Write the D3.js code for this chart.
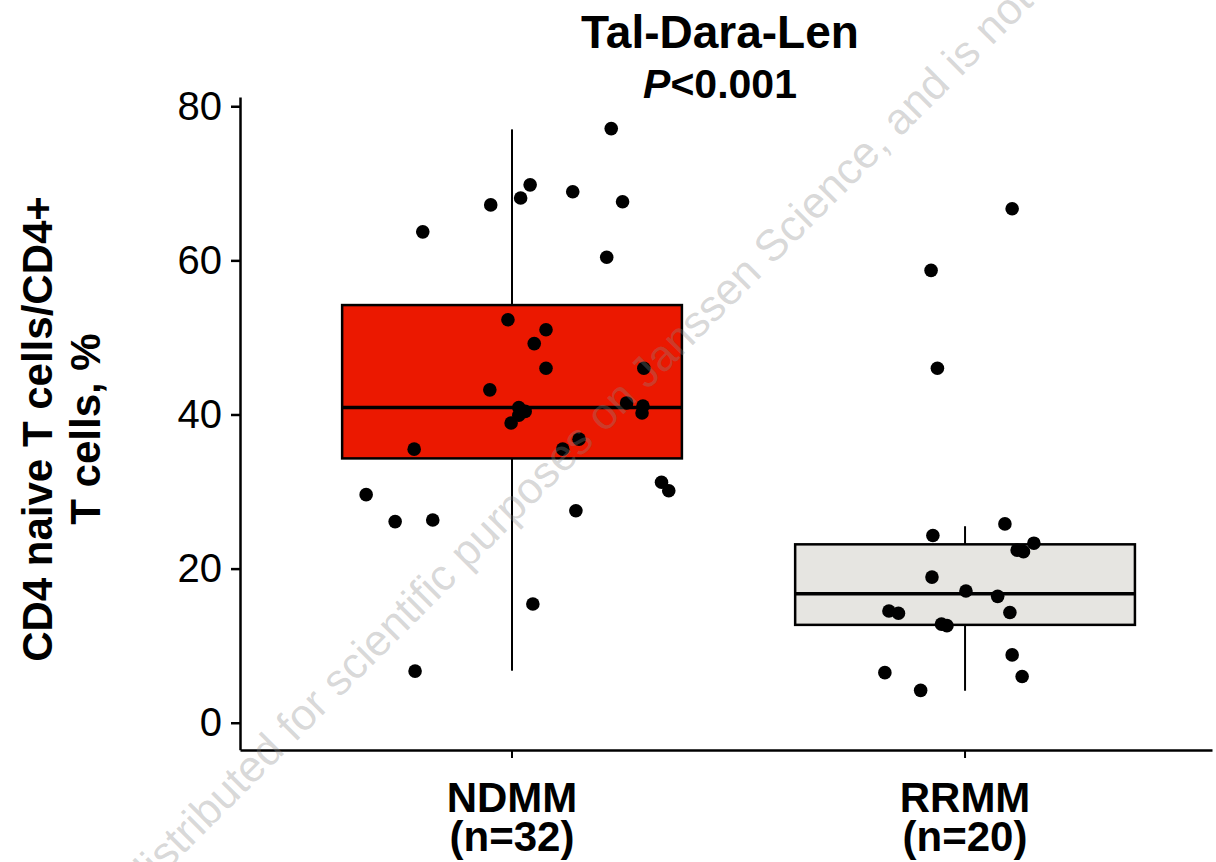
<!DOCTYPE html>
<html>
<head>
<meta charset="utf-8">
<script src="https://cdn.jsdelivr.net/npm/d3@7"></script>
<style>
  body { margin: 0; background: #fff; }
  svg { display: block; font-family: "Liberation Sans", Arial, sans-serif; }
</style>
</head>
<body>
<script>
// categories and labels
var groups = ["NDMM", "RRMM"];
var groupN = ["(n=32)", "(n=20)"];
var boxFill = ["#EB1800", "#E6E5E1"];

// box summaries: low whisker, q1, median, q3, high whisker
var whiskerLow = [6.75, 4.15];
var q1 = [34.3, 12.7];
var median = [40.9, 16.75];
var q3 = [54.2, 23.15];
var whiskerHigh = [77.0, 25.5];

// individual patients, values in %
var ndmmValues = [63.7, 67.2, 68.1, 69.8, 52.3, 51.0, 49.2, 46.0, 43.2, 40.9, 40.4, 39.9, 38.9,
  77.1, 68.9, 67.6, 60.4, 46.0, 41.5, 41.1, 40.2, 36.8, 35.5, 31.2, 30.1, 27.5,
  35.5, 29.6, 26.1, 26.3, 15.4, 6.7];
// horizontal jitter, as fraction of the category step
var ndmmJitter = [-0.197, -0.047, 0.019, 0.040, -0.009, 0.075, 0.049, 0.075, -0.049, 0.015, 0.029, 0.015, -0.002,
  0.219, 0.134, 0.244, 0.209, 0.291, 0.253, 0.289, 0.287, 0.148, 0.112, 0.330, 0.346, 0.141,
  -0.216, -0.322, -0.258, -0.175, 0.046, -0.214];

var rrmmValues = [25.8, 24.3, 23.3, 22.4, 22.2, 18.9, 17.1, 16.4, 14.5, 14.2, 14.3, 12.8, 12.6,
  8.8, 6.5, 6.0, 4.2, 66.7, 58.7, 46.0];
var rrmmJitter = [0.088, -0.071, 0.152, 0.115, 0.129, -0.073, 0.002, 0.072, -0.168, -0.147, 0.099, -0.052, -0.040,
  0.104, -0.177, 0.126, -0.098, 0.104, -0.075, -0.061];

var yTicks = [0, 20, 40, 60, 80];

var width = 1216, height = 862;

var svg = d3.select("body").append("svg")
  .attr("width", width)
  .attr("height", height);

// scales
var x = d3.scaleBand().domain(groups)
  .range([240, 1212])
  .paddingInner(0).paddingOuter(0.0728).align(0.69);

var y = d3.scaleLinear().domain([-3.5, 81.2]).range([749.7, 97]);

var jit = d3.scaleLinear().domain([-1, 1]).range([-x.bandwidth(), x.bandwidth()]);

// y axis
var yAxis = svg.append("g")
  .attr("transform", "translate(240,0)")
  .call(d3.axisLeft(y).tickValues(yTicks).tickSize(9).tickPadding(9).tickSizeOuter(0));
yAxis.select(".domain").attr("stroke-width", 2.5);
yAxis.selectAll(".tick line").attr("stroke-width", 2.5);
yAxis.selectAll(".tick text").attr("font-size", 40).attr("fill", "#000")
  .attr("font-family", "Liberation Sans, Arial, sans-serif");

// x axis
var xAxis = svg.append("g")
  .attr("transform", "translate(0,750)")
  .call(d3.axisBottom(x).tickSize(8).tickSizeOuter(0).tickFormat(""));
xAxis.select(".domain").attr("stroke-width", 2.5);
xAxis.selectAll(".tick line").attr("stroke-width", 2);

// x labels, two lines each
groups.forEach(function(g, i) {
  var cx = x(g) + x.bandwidth() / 2;
  svg.append("text")
    .attr("x", cx).attr("y", 812)
    .attr("text-anchor", "middle")
    .attr("font-size", 42)
    .attr("font-weight", "bold")
    .text(g);
  svg.append("text")
    .attr("x", cx).attr("y", 851)
    .attr("text-anchor", "middle")
    .attr("font-size", 42)
    .attr("font-weight", "bold")
    .text(groupN[i]);
});

// boxes
var boxW = x.bandwidth() * 0.75;
var boxes = svg.append("g");
groups.forEach(function(g, i) {
  var cx = x(g) + x.bandwidth() / 2;
  // whiskers
  boxes.append("line")
    .attr("x1", cx).attr("x2", cx)
    .attr("y1", y(whiskerHigh[i])).attr("y2", y(q3[i]))
    .attr("stroke", "#000").attr("stroke-width", 2);
  boxes.append("line")
    .attr("x1", cx).attr("x2", cx)
    .attr("y1", y(q1[i])).attr("y2", y(whiskerLow[i]))
    .attr("stroke", "#000").attr("stroke-width", 2);
  boxes.append("rect")
    .attr("x", cx - boxW / 2)
    .attr("y", y(q3[i]))
    .attr("width", boxW)
    .attr("height", y(q1[i]) - y(q3[i]))
    .attr("fill", boxFill[i])
    .attr("stroke", "#000")
    .attr("stroke-width", 2.5);
  boxes.append("line")
    .attr("x1", cx - boxW / 2).attr("x2", cx + boxW / 2)
    .attr("y1", y(median[i])).attr("y2", y(median[i]))
    .attr("stroke", "#000").attr("stroke-width", 3.5);
});

// points
var pts = [];
ndmmValues.forEach(function(v, i) { pts.push({g: "NDMM", v: v, j: ndmmJitter[i]}); });
rrmmValues.forEach(function(v, i) { pts.push({g: "RRMM", v: v, j: rrmmJitter[i]}); });

svg.append("g")
  .selectAll("circle").data(pts).enter().append("circle")
  .attr("cx", function(d) { return x(d.g) + x.bandwidth() / 2 + jit(d.j); })
  .attr("cy", function(d) { return y(d.v); })
  .attr("r", 6.8)
  .attr("fill", "#000");

// title
svg.append("text")
  .attr("x", 720).attr("y", 48)
  .attr("text-anchor", "middle")
  .attr("font-size", 46)
  .attr("font-weight", "bold")
  .text("Tal-Dara-Len");
var p = svg.append("text")
  .attr("x", 720).attr("y", 98)
  .attr("text-anchor", "middle")
  .attr("font-size", 41)
  .attr("font-weight", "bold");
p.append("tspan").attr("font-style", "italic").text("P");
p.append("tspan").text("<0.001");

// y label
var yl = svg.append("text")
  .attr("transform", "translate(0,429) rotate(-90)")
  .attr("text-anchor", "middle")
  .attr("font-size", 42)
  .attr("font-weight", "bold");
yl.append("tspan").attr("x", 0).attr("y", 52).text("CD4 naive T cells/CD4+");
yl.append("tspan").attr("x", 0).attr("y", 100).text("T cells, %");

// watermark
var wmSize = 44;
var wm = svg.append("text")
  .attr("font-size", wmSize)
  .attr("fill", "#888")
  .attr("fill-opacity", 0.33)
  .text("distributed for scientific purposes on Janssen Science, and is not for promotional use");
var pre = svg.append("text").attr("font-size", wmSize).text("distributed ");
var preLen = pre.node().getComputedTextLength();
pre.remove();
var sx = 286 - preLen * Math.SQRT1_2, sy = 752 + preLen * Math.SQRT1_2;
wm.attr("transform", "translate(" + sx + "," + sy + ") rotate(-45)");
</script>
</body>
</html>
